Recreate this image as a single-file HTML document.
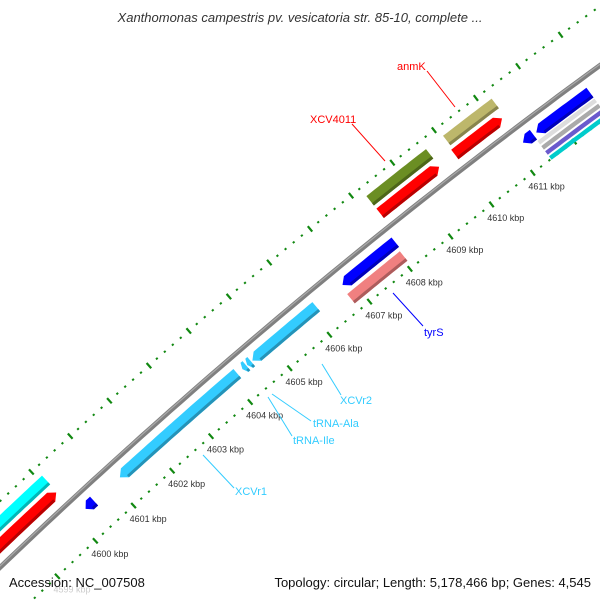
<!DOCTYPE html>
<html><head><meta charset="utf-8"><style>
html,body{margin:0;padding:0;background:#fff;}
svg{display:block;font-family:"Liberation Sans","DejaVu Sans",sans-serif;}
</style></head><body>
<svg id="map" width="600" height="600" viewBox="0 0 600 600" xmlns="http://www.w3.org/2000/svg">
<rect width="600" height="600" fill="#fff"/>
<g id="ticks"></g>
<g id="backbone"></g>
<g id="feats"></g>
<g id="labels"></g>
<text x="300" y="22" text-anchor="middle" font-size="13" font-style="italic" fill="#333">Xanthomonas campestris pv. vesicatoria str. 85-10, complete ...</text>
<text x="9" y="587" font-size="13" fill="#111">Accession: NC_007508</text>
<text x="591" y="587" text-anchor="end" font-size="13" fill="#111">Topology: circular; Length: 5,178,466 bp; Genes: 4,545</text>
</svg>
<script>
// data
const featStart = [4598.0, 4598.0, 4600.28, 4601.17, 4604.30, 4604.42, 4604.55, 4606.80, 4606.76, 4608.22, 4608.22, 4610.03, 4610.07, 4611.20, 4611.52, 4611.44, 4611.44, 4611.44, 4611.44];
const featEnd   = [4600.10, 4600.08, 4600.50, 4604.17, 4604.40, 4604.52, 4606.15, 4608.10, 4608.06, 4609.65, 4609.66, 4611.16, 4611.23, 4611.45, 4612.80, 4612.80, 4612.80, 4612.80, 4612.80];
const featLane  = [2, 1, -1, -1, -1, -1, -1, -1, -2, 1, 2, 1, 2, -1, -1, -2.4, -2.0, -1.6, -2.8];
const featStrand= [0, 1, -1, -1, -1, -1, -1, -1, 0, 1, 0, 1, 0, -1, -1, 0, 0, 0, 0];
const featColor = ["#00ffff","#ff0000","#0000ff","#33ccff","#33ccff","#33ccff","#33ccff","#0000ff","#f08080","#ff0000","#6b8e23","#ff0000","#bdb76b","#0000ff","#0000ff","#6a5acd","#aaaaaa","#dddddd","#00cccc"];
const featNames = ["cyan-gene-left","red-cds-left","blue-cds-small-left","xcvr1-rrna","trna-ile","trna-ala","xcvr2-rrna","tyrs-cds","tyrs-gene","xcv4011-cds","xcv4011-gene","anmk-cds","anmk-gene","blue-cds-small-right","blue-cds-right","stripe-purple","stripe-gray","stripe-light","stripe-cyan"];
const tickStart = 4598, tickEnd = 4614;
const labelKbp = [4599,4600,4601,4602,4603,4604,4605,4606,4607,4608,4609,4610,4611];

const CX=4057, CY=4807, R0=5868, A0=-2.3192, K=0.00893;
const RIN=R0-46, ROUT=R0+48, LANE=16, HW=6;
function pt(k,r){const a=A0+(k-4600)*K;return [CX+r*Math.cos(a), CY+r*Math.sin(a)];}
const NS="http://www.w3.org/2000/svg";
function mk(tag,attrs,parent){const e=document.createElementNS(NS,tag);for(const a in attrs)e.setAttribute(a,attrs[a]);parent.appendChild(e);return e;}
function ptsStr(arr){return arr.map(p=>p[0].toFixed(1)+","+p[1].toFixed(1)).join(" ");}

// ticks
const tg=document.getElementById('ticks');
for(let i=0;i<=(tickEnd-tickStart)*5;i++){
  const k=tickStart+i*0.2;
  const major=(i%5===0);
  for(const r of [RIN,ROUT]){
    const len=major?3.5:1;
    const a=pt(k,r-len), b=pt(k,r+len);
    const l=mk('line',{x1:a[0],y1:a[1],x2:b[0],y2:b[1],stroke:'#118811','stroke-width':major?2.2:2.2},tg);
    
    
  }
}
labelKbp.forEach(k=>{
  const p=pt(k,RIN-6);
  const t=mk('text',{x:p[0]-8,y:p[1]+12,'font-size':9,fill:k===4599?'#ccc':'#333'},tg);
  t.textContent=k+' kbp';
  
  
});

// backbone
const bg=document.getElementById('backbone');
const bpts=[];for(let k=4597;k<=4615;k+=0.25)bpts.push(pt(k,R0));
const bl=mk('polyline',{points:ptsStr(bpts),fill:'none',stroke:'#808080','stroke-width':5},bg);


const bpts2=[];for(let k=4597;k<=4615;k+=0.25)bpts2.push(pt(k,R0+1));
const bl2=mk('polyline',{points:ptsStr(bpts2),fill:'none',stroke:'#aaaaaa','stroke-width':1.2},bg);



// features
const fg=document.getElementById('feats');
function shade(c,f){const n=parseInt(c.slice(1),16);let r=(n>>16)&255,g=(n>>8)&255,b=n&255;r=Math.round(r*f);g=Math.round(g*f);b=Math.round(b*f);return 'rgb('+r+','+g+','+b+')';}
for(let i=0;i<featStart.length;i++){
  const s=featStart[i], e=featEnd[i], rc=R0+featLane[i]*LANE - (featLane[i]>0?1:-1)*0;
  const stripe = featNames[i].startsWith('stripe');
  const hw = stripe?2.2:HW;
  const head = featStrand[i]!==0 ? Math.min(0.13,(e-s)/2) : 0;
  const outer=[], inner=[];
  let s2=s, e2=e;
  if(featStrand[i]===1) e2=e-head;
  if(featStrand[i]===-1) s2=s+head;
  const steps=Math.max(2,Math.ceil((e2-s2)/0.1));
  for(let j=0;j<=steps;j++){const k=s2+(e2-s2)*j/steps;outer.push(pt(k,rc+hw));inner.push(pt(k,rc-hw));}
  let poly=[];
  if(featStrand[i]===-1) poly.push(pt(s,rc));
  poly=poly.concat(outer);
  if(featStrand[i]===1) poly.push(pt(e,rc));
  poly=poly.concat(inner.reverse());
  const g=mk('g',{},fg);
  
  
  const p=mk('polygon',{points:ptsStr(poly),fill:featColor[i]},g);
  
  
  if(!stripe){
    const sh=[];
    for(let j=0;j<=steps;j++){const k=s2+(e2-s2)*j/steps;sh.push(pt(k,rc-hw+3));}
    const sh2=[];for(let j=steps;j>=0;j--){const k=s2+(e2-s2)*j/steps;sh2.push(pt(k,rc-hw));}
    const d=mk('polygon',{points:ptsStr(sh.concat(sh2)),fill:shade(featColor[i],0.72)},g);
    
    
  }
}
</script>
<svg style="position:absolute;left:0;top:0" width="600" height="600">
<g font-family="Liberation Sans, DejaVu Sans, sans-serif" font-size="11">
<line x1="427" y1="71" x2="455" y2="107" stroke="#ff0000"/>
<text x="397" y="70" fill="#ff0000">anmK</text>
<line x1="352" y1="124" x2="385" y2="161" stroke="#ff0000"/>
<text x="310" y="123" fill="#ff0000">XCV4011</text>
<line x1="393" y1="293" x2="423" y2="326" stroke="#0000ff"/>
<text x="424" y="336" fill="#0000ff">tyrS</text>
<line x1="322" y1="364" x2="341" y2="395" stroke="#33ccff"/>
<text x="340" y="404" fill="#33ccff">XCVr2</text>
<line x1="272" y1="394" x2="311" y2="421" stroke="#33ccff"/>
<text x="313" y="427" fill="#33ccff">tRNA-Ala</text>
<line x1="268" y1="397" x2="292" y2="436" stroke="#33ccff"/>
<text x="293" y="444" fill="#33ccff">tRNA-Ile</text>
<line x1="203" y1="455" x2="234" y2="488" stroke="#33ccff"/>
<text x="235" y="495" fill="#33ccff">XCVr1</text>
</g></svg>
</body></html>
